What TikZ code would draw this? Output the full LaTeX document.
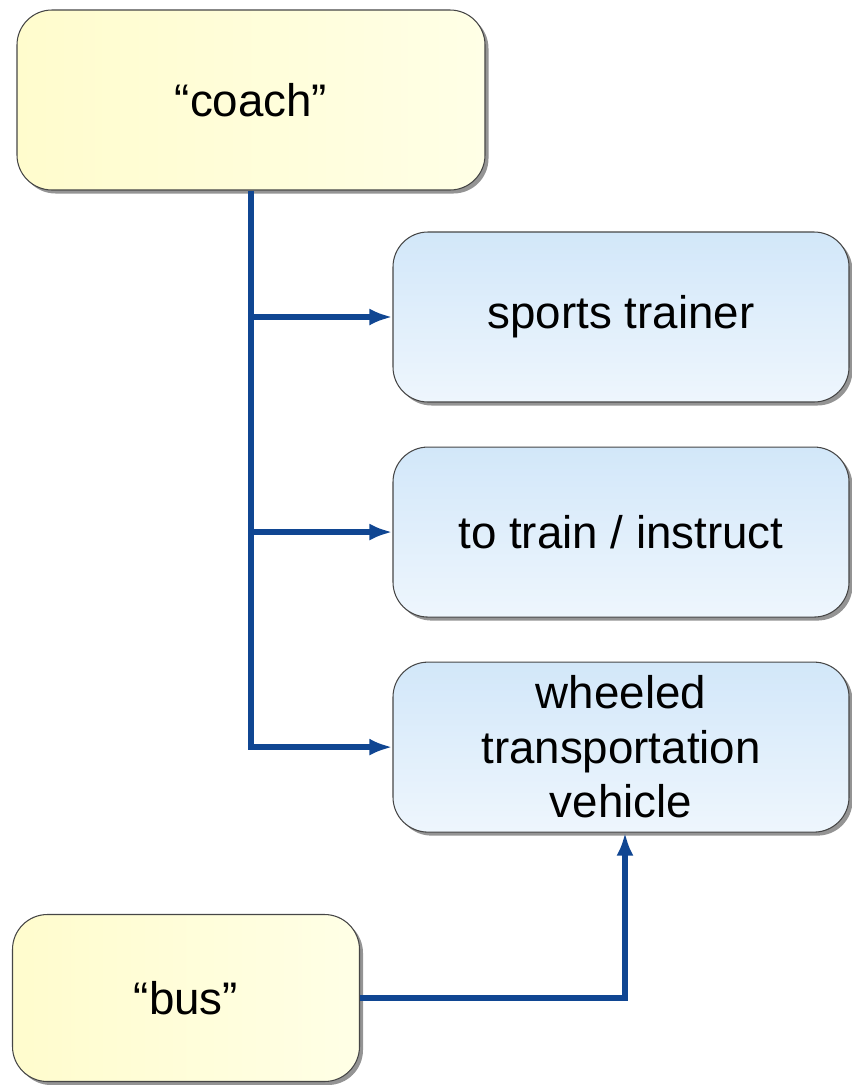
\documentclass[tikz,border=0pt]{standalone}
\usepackage{fontspec}
\setmainfont{Liberation Sans}
\usepackage{tikz}
\usetikzlibrary{shapes, arrows.meta, positioning, shadows, calc}
\definecolor{wordYellow}{RGB}{255, 252, 205}
\definecolor{wordYellowLight}{RGB}{255, 255, 230}
\definecolor{senseBlue}{RGB}{210, 231, 249}
\definecolor{senseBlueLight}{RGB}{238, 246, 253}
\definecolor{linkBlue}{RGB}{16, 70, 146}
\definecolor{edgeGray}{RGB}{70, 70, 70}

\begin{document}
\begin{tikzpicture}[
				word_box/.style  = {draw=edgeGray, rectangle, rounded corners=0.7cm, semithick,
					left color=wordYellow, right color=wordYellowLight,
					drop shadow={shadow xshift=0.07cm, shadow yshift=-0.07cm, opacity=0.6, fill=black!70},
					align=center, font=\fontsize{26}{31}\selectfont},
				sense_box/.style = {draw=edgeGray, rectangle, rounded corners=0.7cm, semithick,
					top color=senseBlue, bottom color=senseBlueLight,
					drop shadow={shadow xshift=0.07cm, shadow yshift=-0.07cm, opacity=0.6, fill=black!70},
					minimum width=9.12cm, minimum height=3.4cm,
					align=center, font=\fontsize{26}{31}\selectfont},
				line/.style      = {-{Latex[length=0.46cm, width=0.34cm]}, draw=linkBlue, line width=3.4pt}
				]
				\useasboundingbox (0, 0) rectangle (17.02, -21.7);
				
				\node[word_box, minimum width=9.36cm, minimum height=3.6cm] (coach) at (5.02, -2.0) {``coach''};
				
				\node[sense_box] (trainer) at (12.42, -6.34) {sports trainer};
				\node[sense_box, below=0.88cm of trainer] (instruct) {to train / instruct};
				\node[sense_box, below=0.88cm of instruct] (vehicle) {wheeled\\transportation\\vehicle};
				
				\node[word_box, minimum width=6.94cm, minimum height=3.34cm] (bus) at (3.72, -19.96) {``bus''};
				
				\draw[line] (coach.south) |- (vehicle.west);
				\draw[line] (coach.south |- trainer.west) -- (trainer.west);
				\draw[line] (coach.south |- instruct.west) -- (instruct.west);
				\draw[line] (bus.east) -| ([xshift=0.08cm]vehicle.south);
			\end{tikzpicture}
\end{document}
